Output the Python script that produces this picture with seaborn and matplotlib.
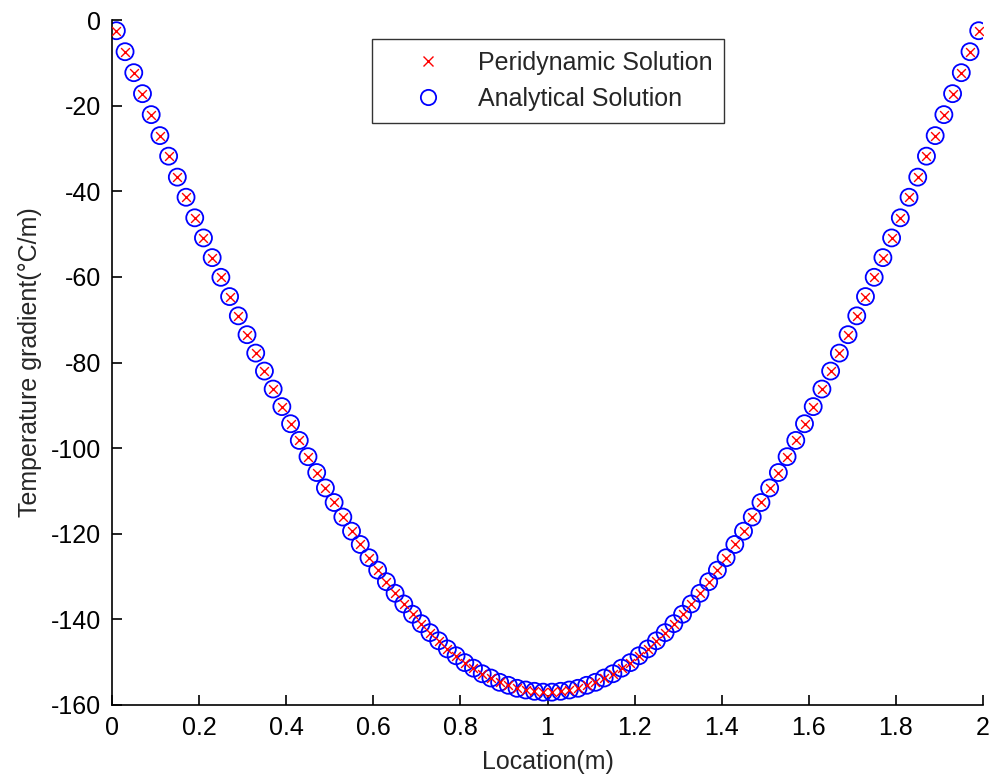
import matplotlib
matplotlib.use("Agg")
import matplotlib.pyplot as plt
import seaborn as sns
import pandas as pd
from matplotlib.lines import Line2D

sns.set_theme(style="white")
plt.rcParams['font.family'] = ['Liberation Sans', 'DejaVu Sans']

location = [0.01, 0.03, 0.05, 0.07, 0.09, 0.11, 0.13, 0.15, 0.17, 0.19,
            0.21, 0.23, 0.25, 0.27, 0.29, 0.31, 0.33, 0.35, 0.37, 0.39,
            0.41, 0.43, 0.45, 0.47, 0.49, 0.51, 0.53, 0.55, 0.57, 0.59,
            0.61, 0.63, 0.65, 0.67, 0.69, 0.71, 0.73, 0.75, 0.77, 0.79,
            0.81, 0.83, 0.85, 0.87, 0.89, 0.91, 0.93, 0.95, 0.97, 0.99,
            1.01, 1.03, 1.05, 1.07, 1.09, 1.11, 1.13, 1.15, 1.17, 1.19,
            1.21, 1.23, 1.25, 1.27, 1.29, 1.31, 1.33, 1.35, 1.37, 1.39,
            1.41, 1.43, 1.45, 1.47, 1.49, 1.51, 1.53, 1.55, 1.57, 1.59,
            1.61, 1.63, 1.65, 1.67, 1.69, 1.71, 1.73, 1.75, 1.77, 1.79,
            1.81, 1.83, 1.85, 1.87, 1.89, 1.91, 1.93, 1.95, 1.97, 1.99]

analytical = [-2.5, -7.4, -12.3, -17.2, -22.1, -27.0, -31.8, -36.7, -41.4, -46.2,
              -50.9, -55.5, -60.1, -64.6, -69.1, -73.5, -77.8, -82.0, -86.2, -90.3,
              -94.3, -98.2, -102.0, -105.7, -109.3, -112.7, -116.1, -119.4, -122.5, -125.6,
              -128.5, -131.2, -133.9, -136.4, -138.8, -141.0, -143.1, -145.0, -146.9, -148.5,
              -150.1, -151.4, -152.7, -153.7, -154.7, -155.4, -156.1, -156.5, -156.8, -157.0,
              -157.0, -156.8, -156.5, -156.1, -155.4, -154.7, -153.7, -152.7, -151.4, -150.1,
              -148.5, -146.9, -145.0, -143.1, -141.0, -138.8, -136.4, -133.9, -131.2, -128.5,
              -125.6, -122.5, -119.4, -116.1, -112.7, -109.3, -105.7, -102.0, -98.2, -94.3,
              -90.3, -86.2, -82.0, -77.8, -73.5, -69.1, -64.6, -60.1, -55.5, -50.9,
              -46.2, -41.4, -36.7, -31.8, -27.0, -22.1, -17.2, -12.3, -7.4, -2.5]

peridynamic = [-2.5, -7.4, -12.3, -17.2, -22.1, -27.0, -31.8, -36.7, -41.4, -46.2,
               -50.9, -55.5, -60.1, -64.6, -69.1, -73.5, -77.8, -82.0, -86.2, -90.3,
               -94.3, -98.2, -102.0, -105.7, -109.3, -112.7, -116.1, -119.4, -122.5, -125.6,
               -128.5, -131.2, -133.9, -136.4, -138.8, -141.0, -143.1, -145.0, -146.9, -148.5,
               -150.1, -151.4, -152.7, -153.7, -154.7, -155.4, -156.1, -156.5, -156.8, -157.0,
               -157.0, -156.8, -156.5, -156.1, -155.4, -154.7, -153.7, -152.7, -151.4, -150.1,
               -148.5, -146.9, -145.0, -143.1, -141.0, -138.8, -136.4, -133.9, -131.2, -128.5,
               -125.6, -122.5, -119.4, -116.1, -112.7, -109.3, -105.7, -102.0, -98.2, -94.3,
               -90.3, -86.2, -82.0, -77.8, -73.5, -69.1, -64.6, -60.1, -55.5, -50.9,
               -46.2, -41.4, -36.7, -31.8, -27.0, -22.1, -17.2, -12.3, -7.4, -2.5]

x_ticks = [0, 0.2, 0.4, 0.6, 0.8, 1, 1.2, 1.4, 1.6, 1.8, 2]
x_tick_labels = ["0", "0.2", "0.4", "0.6", "0.8", "1", "1.2", "1.4", "1.6", "1.8", "2"]
y_ticks = [-160, -140, -120, -100, -80, -60, -40, -20, 0]
y_tick_labels = ["-160", "-140", "-120", "-100", "-80", "-60", "-40", "-20", "0"]

df = pd.DataFrame({"x": location, "ana": analytical, "peri": peridynamic})

fig = plt.figure(figsize=(9.92, 7.79), dpi=100)
ax = fig.add_axes([0.1129, 0.095, 0.991 - 0.1129, 0.9743 - 0.095])

sns.scatterplot(data=df, x="x", y="ana", ax=ax, marker="o", s=150,
                facecolors="none", edgecolor="#0000ff", linewidth=1.3, zorder=2)
sns.scatterplot(data=df, x="x", y="peri", ax=ax, marker="x", s=40,
                color="#ff0000", linewidth=1.0, zorder=3)

ax.set_xlim(0, 2)
ax.set_ylim(-160, 0)
ax.set_xticks(x_ticks)
ax.set_xticklabels(x_tick_labels)
ax.set_yticks(y_ticks)
ax.set_yticklabels(y_tick_labels)
ax.tick_params(direction="in", length=7, width=1.2, colors="black",
               labelsize=18, bottom=True, left=True)
ax.tick_params(axis="x", pad=8)
ax.tick_params(axis="y", pad=8)
for side in ["top", "right"]:
    ax.spines[side].set_visible(False)
for side in ["left", "bottom"]:
    ax.spines[side].set_color("black")
    ax.spines[side].set_linewidth(1.2)

ax.set_xlabel("Location(m)", fontsize=18, labelpad=7)
ax.set_ylabel("Temperature gradient(°C/m)", fontsize=18, labelpad=6)

handles = [
    Line2D([], [], linestyle="none", marker="x", color="#ff0000",
           markersize=7, markeredgewidth=1.0),
    Line2D([], [], linestyle="none", marker="o", markerfacecolor="none",
           markeredgecolor="#0000ff", markersize=11, markeredgewidth=1.3),
]
leg = ax.legend(handles, ["Peridynamic Solution", "Analytical Solution"],
                loc="upper left", bbox_to_anchor=(0.2985, 0.9723),
                fontsize=18, frameon=True, fancybox=False, edgecolor="black",
                handlelength=3.5, handletextpad=0.25, borderpad=0.48,
                labelspacing=0.48, borderaxespad=0)
leg.get_frame().set_linewidth(1.0)

fig.savefig("out.png", dpi=100, facecolor="white")
